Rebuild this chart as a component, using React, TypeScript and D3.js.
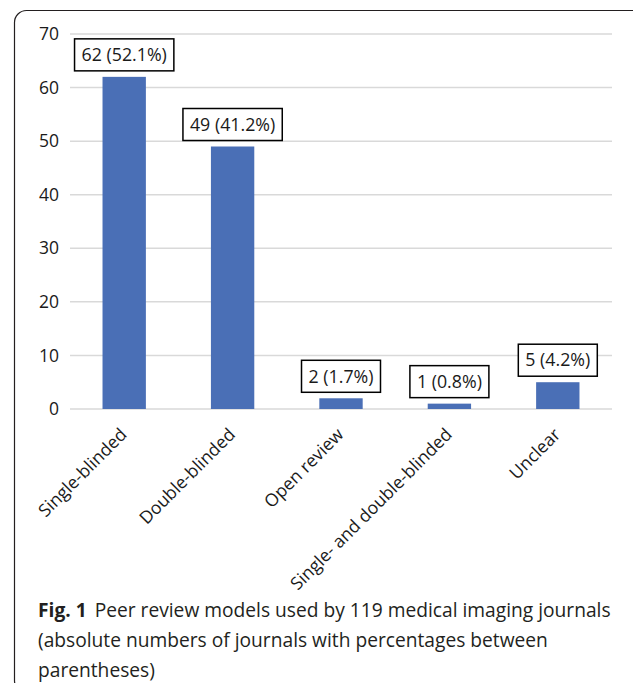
import { useEffect, useRef } from 'react'
import * as d3 from 'd3'

const categories = ['Single-blinded', 'Double-blinded', 'Open review', 'Single- and double-blinded', 'Unclear']
const counts = [62, 49, 2, 1, 5]
const percents = ['52.1%', '41.2%', '1.7%', '0.8%', '4.2%']
const yTicks = [0, 10, 20, 30, 40, 50, 60, 70]
const captionLines = [
  'Peer review models used by 119 medical imaging journals',
  '(absolute numbers of journals with percentages between',
  'parentheses)'
]

export default function App() {
  const ref = useRef<SVGSVGElement | null>(null)

  useEffect(() => {
    if (!ref.current) return
    const width = 633
    const height = 683
    const svg = d3.select(ref.current)
    svg.selectAll('*').remove()
    svg.attr('width', width).attr('height', height)

    const font = '"Open Sans", "Noto Sans", sans-serif'

    // frame (partly cropped, as in the figure)
    svg.append('rect')
      .attr('x', 14.5).attr('y', 10.5)
      .attr('width', 630).attr('height', 682)
      .attr('rx', 12)
      .attr('fill', 'none')
      .attr('stroke', '#231f20')
      .attr('stroke-width', 1.2)

    const x = d3.scaleBand<string>()
      .domain(categories)
      .range([70, 612])
      .paddingInner(0.6)
      .paddingOuter(0.3)

    const y = d3.scaleLinear().domain([0, 70]).range([409, 34])

    // gridlines
    svg.append('g')
      .selectAll('line')
      .data(yTicks)
      .enter()
      .append('line')
      .attr('x1', 70).attr('x2', 612)
      .attr('y1', d => y(d)).attr('y2', d => y(d))
      .attr('stroke', '#d9d9d9')
      .attr('stroke-width', 1.5)

    // y tick labels
    svg.append('g')
      .selectAll('text')
      .data(yTicks)
      .enter()
      .append('text')
      .attr('x', 59)
      .attr('y', d => y(d))
      .attr('dy', '0.35em')
      .attr('text-anchor', 'end')
      .attr('font-family', font)
      .attr('font-size', 17.5)
      .attr('fill', '#1a1a1a')
      .text(d => d)

    // bars
    svg.append('g')
      .selectAll('rect')
      .data(counts)
      .enter()
      .append('rect')
      .attr('x', (d, i) => x(categories[i])!)
      .attr('y', d => y(d))
      .attr('width', x.bandwidth())
      .attr('height', d => y(0) - y(d))
      .attr('fill', '#4a6fb6')

    // value labels in boxes
    const labels = svg.append('g')
      .selectAll('g')
      .data(counts)
      .enter()
      .append('g')
      .attr('transform', (d, i) => `translate(${x(categories[i])! + x.bandwidth() / 2},${y(d) - 22})`)

    labels.append('text')
      .attr('text-anchor', 'middle')
      .attr('dy', '0.35em')
      .attr('font-family', font)
      .attr('font-size', 17.8)
      .attr('fill', '#1a1a1a')
      .text((d, i) => `${d} (${percents[i]})`)

    labels.each(function () {
      const g = d3.select(this)
      const t = g.select('text').node() as SVGTextElement
      const w = t.getComputedTextLength()
      g.insert('rect', 'text')
        .attr('x', -w / 2 - 7)
        .attr('y', -16)
        .attr('width', w + 14)
        .attr('height', 32)
        .attr('fill', '#fff')
        .attr('stroke', '#000')
        .attr('stroke-width', 1.5)
    })

    // category labels
    svg.append('g')
      .selectAll('text')
      .data(categories)
      .enter()
      .append('text')
      .attr('transform', d => `translate(${x(d)! + x.bandwidth() / 2 - 5},${427}) rotate(-45)`)
      .attr('text-anchor', 'end')
      .attr('dy', '0.7em')
      .attr('font-family', font)
      .attr('font-size', 17.6)
      .attr('fill', '#1a1a1a')
      .text(d => d)

    // caption
    const cap = svg.append('g').attr('font-family', font).attr('fill', '#231f20')
    captionLines.forEach((line, i) => {
      const t = cap.append('text')
        .attr('x', 38)
        .attr('y', 617 + i * 30)
        .attr('font-size', 19.2)
      if (i === 0) {
        t.append('tspan').attr('font-weight', 'bold').text('Fig. 1')
        t.append('tspan').attr('dx', 8).text(line)
      } else {
        t.text(line)
      }
    })
  }, [])

  return <svg ref={ref} style={{ position: 'absolute', left: 0, top: 0 }}></svg>
}
